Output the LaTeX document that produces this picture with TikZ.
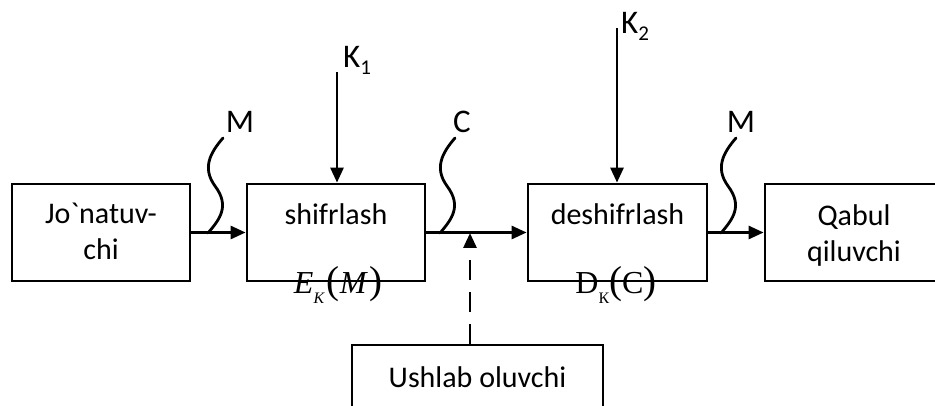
\documentclass[tikz,border=0pt]{standalone}
\usepackage{fontspec}
\setmainfont{Carlito}[Ligatures=TeXOff]
\newfontfamily\tms{Liberation Serif}
\usetikzlibrary{arrows.meta}
\newcommand{\bigpar}[1]{{\fontsize{39}{39}\selectfont\upshape #1}}
\newcommand{\subsc}[1]{\raisebox{-10pt}{\fontsize{16}{16}\selectfont #1}}
\begin{document}
\begin{tikzpicture}[x=1pt,y=-1pt,
  box/.style={draw, line width=2.8pt, minimum width=178pt, minimum height=97pt, inner sep=0pt},
  txt/.style={font=\fontsize{30}{36}\selectfont, align=center, inner sep=0pt},
  lbl/.style={font=\fontsize{33}{36}\selectfont, inner sep=0pt},
  mth/.style={font=\tms\fontsize{32}{32}\selectfont, inner sep=0pt},
  conn/.style={line width=2.8pt, -{Triangle[length=15pt,width=13pt]}},
  dconn/.style={conn, dash pattern=on 20pt off 12pt},
  wave/.style={line width=2.8pt, line cap=round}]
\useasboundingbox (0,0) rectangle (935,406);
\clip (0,0) rectangle (935,406);
% boxes
\node[box] (b1) at (101,232.5) {};
\node[box] (b2) at (336,232.5) {};
\node[box, minimum width=179pt] (b3) at (617.5,232.5) {};
\node[box] (b4) at (854,232.5) {};
\node[box, minimum width=251pt, minimum height=110pt] (b5) at (477.5,400) {};
% box texts
\node[txt] (t1) at (101,231) {Jo`natuv-\\chi};
\node[txt] (t2) at (336,214) {shifrlash};
\node[txt] (t3) at (617.5,214) {deshifrlash};
\node[txt] (t4) at (854,236) {Qabul\\qiluvchi};
\node[txt] (t5) at (477.5,377) {Ushlab oluvchi};
% coordinates
\coordinate (tap) at (470,233);
\coordinate (k1) at (337,72);
\coordinate (k2) at (617,28);
\coordinate (w1) at (208,233);
\coordinate (w2) at (440,233);
\coordinate (w3) at (721,233);
% connectors
\draw[conn] (b1.east) -- (b2.west);
\draw[conn] (b2.east) -- (b3.west);
\draw[conn] (b3.east) -- (b4.west);
\draw[dconn] (b5.north -| tap) -- (tap);
\draw[conn] (k1) -- (k1 |- b2.north);
\draw[conn] (k2) -- (k2 |- b3.north);
% wavy markers
\foreach \w in {w1,w2,w3}{
  \draw[wave, shift={(\w)}] (0,0) .. controls (12,-14) and (22,-27) .. (7,-47)
     .. controls (-6,-65) and (2,-80) .. (15,-95);
}
% labels
\node[lbl, anchor=base] (m1) at (240,133) {M};
\node[lbl, anchor=base] (c) at (462,133) {C};
\node[lbl, anchor=base] (m2) at (741,133) {M};
\node[lbl, anchor=base west] (lk1) at (343,68) {K\raisebox{-7pt}{\fontsize{21}{21}\selectfont 1}};
\node[lbl, anchor=base west] (lk2) at (621,34) {K\raisebox{-7pt}{\fontsize{21}{21}\selectfont 2}};
\node[mth, anchor=base] (ek) at (338,294) {\textit{E}\subsc{\textit{K}}\hspace{2pt}\bigpar{(}\textit{M}\hspace{1pt}\bigpar{)}};
\node[mth, anchor=base] (dk) at (616,294) {D\subsc{К}\bigpar{(}C\bigpar{)}};
\end{tikzpicture}
\end{document}
